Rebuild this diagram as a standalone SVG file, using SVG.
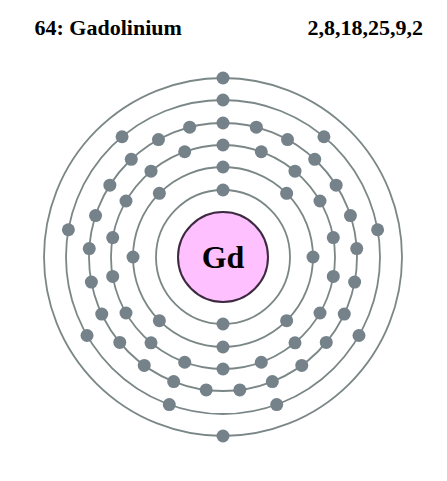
<svg xmlns="http://www.w3.org/2000/svg" width="447" height="481" viewBox="0 0 447 481">
<style>
.ring{fill:none;stroke:#7b8787;stroke-width:1.8}
.e{fill:#75828a}
.t{font-family:"Liberation Serif","Times New Roman",serif;font-weight:bold;fill:#000}
</style>
<defs><circle id="el" r="6.5" class="e"/></defs>
<rect width="447" height="481" fill="#fff"/>
<text class="t" x="34.5" y="35" font-size="22">64: Gadolinium</text>
<text class="t" x="423" y="35" font-size="22" text-anchor="end">2,8,18,25,9,2</text>
<g id="shells">
<circle class="ring" cx="223" cy="257" r="67"/>
<circle class="ring" cx="223" cy="257" r="90"/>
<circle class="ring" cx="223" cy="257" r="112"/>
<circle class="ring" cx="223" cy="257" r="134"/>
<circle class="ring" cx="223" cy="257" r="157"/>
<circle class="ring" cx="223" cy="257" r="179"/>
</g>
<g id="nucleus">
<circle cx="223" cy="257" r="45" fill="#ffc0ff" stroke="#3d2a40" stroke-width="2"/>
<text class="t" x="223" y="268" font-size="32" text-anchor="middle">Gd</text>
</g>
<g id="shell1">
<use href="#el" x="223" y="190"/><use href="#el" x="223" y="324"/>
</g>
<g id="shell2">
<use href="#el" x="223" y="167"/><use href="#el" x="286.64" y="193.36"/><use href="#el" x="313" y="257"/><use href="#el" x="286.64" y="320.64"/>
<use href="#el" x="223" y="347"/><use href="#el" x="159.36" y="320.64"/><use href="#el" x="133" y="257"/><use href="#el" x="159.36" y="193.36"/>
</g>
<g id="shell3">
<use href="#el" x="223" y="145"/><use href="#el" x="261.3" y="151.75"/><use href="#el" x="294.99" y="171.2"/><use href="#el" x="319.99" y="201"/>
<use href="#el" x="333.3" y="237.55"/><use href="#el" x="333.3" y="276.45"/><use href="#el" x="319.99" y="313"/><use href="#el" x="294.99" y="342.8"/>
<use href="#el" x="261.3" y="362.25"/><use href="#el" x="223" y="369"/><use href="#el" x="184.7" y="362.25"/><use href="#el" x="151.01" y="342.8"/>
<use href="#el" x="126.01" y="313"/><use href="#el" x="112.7" y="276.45"/><use href="#el" x="112.7" y="237.55"/><use href="#el" x="126.01" y="201"/>
<use href="#el" x="151.01" y="171.2"/><use href="#el" x="184.7" y="151.75"/>
</g>
<g id="shell4">
<use href="#el" x="223" y="123"/><use href="#el" x="256.32" y="127.21"/><use href="#el" x="287.55" y="139.57"/><use href="#el" x="314.73" y="159.32"/>
<use href="#el" x="336.14" y="185.2"/><use href="#el" x="350.44" y="215.59"/><use href="#el" x="356.74" y="248.59"/><use href="#el" x="354.63" y="282.11"/>
<use href="#el" x="344.25" y="314.05"/><use href="#el" x="326.25" y="342.41"/><use href="#el" x="301.76" y="365.41"/><use href="#el" x="272.33" y="381.59"/>
<use href="#el" x="239.79" y="389.94"/><use href="#el" x="206.21" y="389.94"/><use href="#el" x="173.67" y="381.59"/><use href="#el" x="144.24" y="365.41"/>
<use href="#el" x="119.75" y="342.41"/><use href="#el" x="101.75" y="314.05"/><use href="#el" x="91.37" y="282.11"/><use href="#el" x="89.26" y="248.59"/>
<use href="#el" x="95.56" y="215.59"/><use href="#el" x="109.86" y="185.2"/><use href="#el" x="131.27" y="159.32"/><use href="#el" x="158.45" y="139.57"/>
<use href="#el" x="189.68" y="127.21"/>
</g>
<g id="shell5">
<use href="#el" x="223" y="100"/><use href="#el" x="323.92" y="136.73"/><use href="#el" x="377.61" y="229.74"/><use href="#el" x="358.97" y="335.5"/>
<use href="#el" x="276.7" y="404.53"/><use href="#el" x="169.3" y="404.53"/><use href="#el" x="87.03" y="335.5"/><use href="#el" x="68.39" y="229.74"/>
<use href="#el" x="122.08" y="136.73"/>
</g>
<g id="shell6">
<use href="#el" x="223" y="78"/><use href="#el" x="223" y="436"/>
</g>
</svg>
